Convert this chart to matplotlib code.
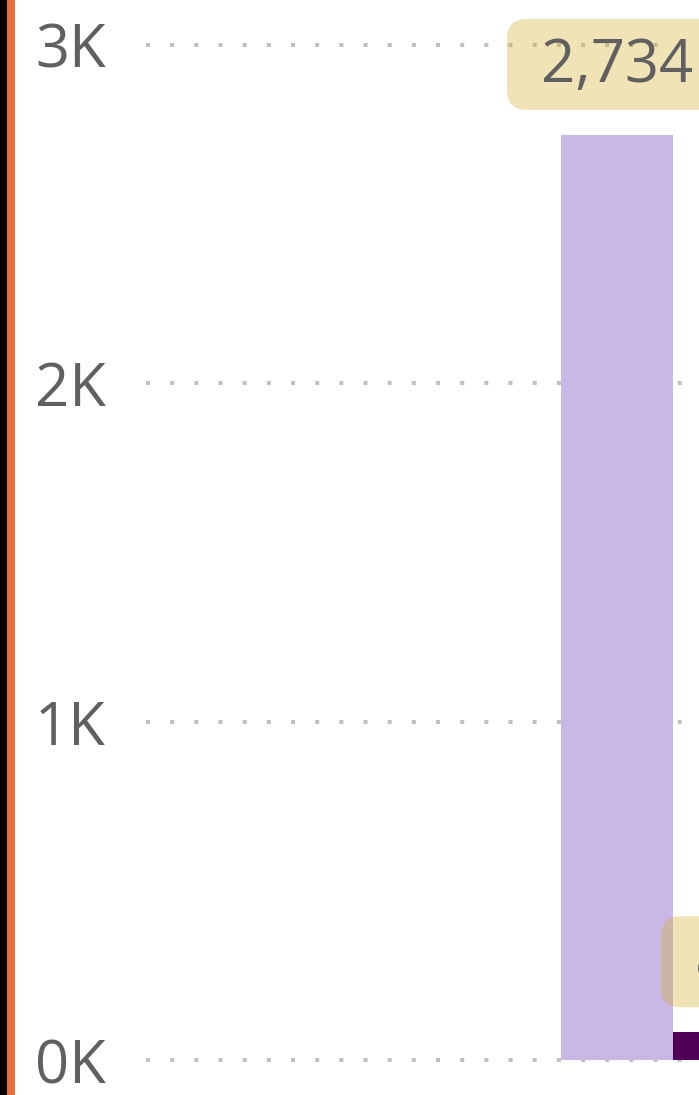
import matplotlib
matplotlib.use("Agg")
import matplotlib.pyplot as plt
from matplotlib.patches import FancyBboxPatch, Rectangle
import matplotlib.transforms as mtransforms

# Data
series_values = [2734, 82]
series_colors = ["#C9B8E6", "#4F0057"]
y_ticks = [0, 1000, 2000, 3000]
y_tick_labels = ["0K", "1K", "2K", "3K"]

W, H, DPI = 699, 1095, 100
fig = plt.figure(figsize=(W / DPI, H / DPI), dpi=DPI)
ax = fig.add_axes([146 / W, 0, 1 - 146 / W, 1])

# pixel mapping
y0_pix, y3_pix = 1060, 45  # from top
upp = 3000 / (y0_pix - y3_pix)
ax.set_ylim(-(H - y0_pix) * upp, 3000 + y3_pix * upp)
bar_px = 112
left_units = (561 - 146) / bar_px
ax.set_xlim(-0.5 - left_units, -0.5 - left_units + (W - 146) / bar_px)

xs = list(range(len(series_values)))
ax.bar(xs, series_values, width=1.0, color=series_colors, zorder=2)

for t in y_ticks:
    ax.axhline(t, color="#C0C0C0", lw=2.9, linestyle=(0, (1, 5)), zorder=1)

ax.set_yticks(y_ticks)
ax.set_yticklabels(y_tick_labels)
ax.set_xticks([])
ax.tick_params(axis="y", length=0, pad=29, labelsize=43, labelcolor="#606060")
for lab in ax.get_yticklabels():
    lab.set_fontfamily("Open Sans")
for s in ax.spines.values():
    s.set_visible(False)

# value labels with rounded boxes
fig.canvas.draw()
renderer = fig.canvas.get_renderer()
for x, v in zip(xs, series_values):
    base = mtransforms.ScaledTranslation(x, v, ax.transData)
    trans = fig.dpi_scale_trans + base
    txt = ax.text(0, 0.25 + 0.44, f"{v:,}", transform=trans, ha="center", va="center",
                  fontsize=43, color="#606060", family="Open Sans", zorder=5, clip_on=False)
    ext = txt.get_window_extent(renderer)
    bw = (ext.width + 68) / DPI
    box = FancyBboxPatch((-bw / 2, 0.25), bw, 0.91,
                         boxstyle="round,pad=0,rounding_size=0.2",
                         transform=trans, facecolor="#D4B030", alpha=0.35,
                         edgecolor="none", zorder=4, clip_on=False)
    ax.add_patch(box)

# left decorative strips
fig.patches.append(Rectangle((0, 0), 7 / W, 1, transform=fig.transFigure,
                             facecolor="#000000", edgecolor="none", zorder=10))
fig.patches.append(Rectangle((7 / W, 0), 8 / W, 1, transform=fig.transFigure,
                             facecolor="#E8703A", edgecolor="none", zorder=10))

fig.savefig("out.png", dpi=DPI)
